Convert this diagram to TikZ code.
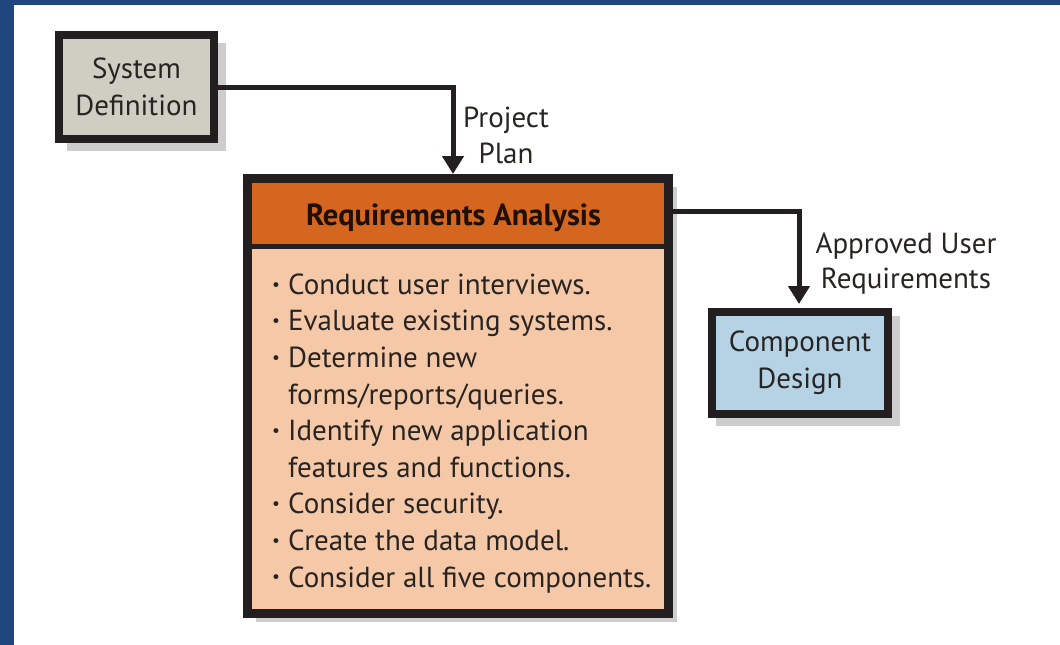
\documentclass[tikz,border=0pt]{standalone}
\usepackage{fontspec}
\setmainfont{PT Sans}
\usetikzlibrary{calc,arrows.meta}
\definecolor{frameblue}{RGB}{31,71,125}
\definecolor{edge}{RGB}{35,31,32}
\definecolor{sysgray}{RGB}{206,206,194}
\definecolor{hdrorange}{RGB}{212,102,32}
\definecolor{peach}{RGB}{245,200,168}
\definecolor{compblue}{RGB}{181,211,229}
\definecolor{shadowc}{RGB}{205,205,205}
\definecolor{txt}{RGB}{40,36,34}
\newcommand{\bulitem}[1]{\makebox[16pt][l]{\raisebox{0.28ex}{\scalebox{0.6}{\textbullet}}}#1}
\newcommand{\contitem}[1]{\hspace*{16pt}#1}
\begin{document}
\begin{tikzpicture}[x=1pt,y=-1pt,
  box/.style={draw=edge, line width=8pt, inner sep=0pt, align=center, text=txt,
    font=\fontsize{29}{37}\selectfont},
  conn/.style={draw=edge, line width=5pt, -{Triangle[width=21pt,length=18pt]}},
  lbl/.style={text=txt, font=\fontsize{29}{37}\selectfont, inner sep=0pt},
  item/.style={text=txt, font=\fontsize{29}{36}\selectfont, inner sep=0pt, anchor=base west}]
\useasboundingbox (0,0) rectangle (1060,645);
\fill[white] (0,0) rectangle (1060,645);
\fill[frameblue] (0,0) rectangle (14,645);
\fill[frameblue] (0,0) rectangle (1060,5);
% shadows
\fill[shadowc] (67,43) rectangle (226,151);
\fill[shadowc] (256,187) rectangle (677,622);
\fill[shadowc] (716,316) rectangle (900,426);
% boxes
\node[box, fill=sysgray, minimum width=155pt, minimum height=104pt] (sys) at (136.5,87) {System\\Definition};
\node[box, draw=none, fill=peach, minimum width=413pt, minimum height=427pt] (req) at (458,396) {};
\fill[hdrorange] (req.north west) rectangle ($(req.north east)+(0,67.5)$);
\draw[edge, line width=5pt] ($(req.north west)+(0,67.5)$) -- ($(req.north east)+(0,67.5)$);
\draw[edge, line width=9pt] (req.north west) rectangle (req.south east);
\node[box, fill=compblue, minimum width=176pt, minimum height=102pt] (comp) at (800,363) {Component\\Design};
% connectors
\draw[conn] (sys.east) -| ([xshift=-5pt,yshift=4.5pt]req.north);
\draw[conn] ($(req.north east)+(4.5,32.5)$) -| ([xshift=-1pt,yshift=4pt]comp.north);
% labels
\node[lbl, anchor=base] (pp1) at (506,127) {Project};
\node[lbl, anchor=base] (pp2) at (506,163) {Plan};
\node[lbl, anchor=base] (au1) at (906,253) {Approved User};
\node[lbl, anchor=base] (au2) at (906,288) {Requirements};
\node[text=black!85!hdrorange, font=\fontsize{30.5}{36}\bfseries, inner sep=0pt, anchor=base] (hdr) at (453.5,225) {Requirements Analysis};
% items
\node[item] (b1) at (272,294.2) {\bulitem{Conduct user interviews.}};
\node[item] (b2) at (272,330.8) {\bulitem{Evaluate existing systems.}};
\node[item] (b3) at (272,367.4) {\bulitem{Determine new}};
\node[item] (b4) at (272,404.0) {\contitem{forms/reports/queries.}};
\node[item] (b5) at (272,440.6) {\bulitem{Identify new application}};
\node[item] (b6) at (272,477.2) {\contitem{features and functions.}};
\node[item] (b7) at (272,513.8) {\bulitem{Consider security.}};
\node[item] (b8) at (272,550.4) {\bulitem{Create the data model.}};
\node[item] (b9) at (272,587.0) {\bulitem{Consider all five components.}};
\end{tikzpicture}
\end{document}
